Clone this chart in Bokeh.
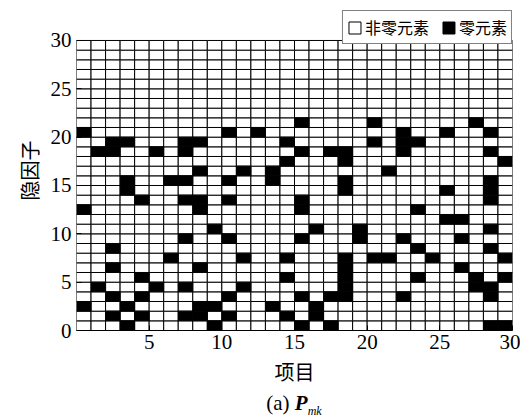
from bokeh.plotting import figure
from bokeh.models import ColumnDataSource, FixedTicker, Legend, LegendItem, Range1d, Div
from bokeh.layouts import column
from bokeh.embed import file_html
from bokeh.resources import INLINE

# ---- data ----
items = list(range(1, 31))      # 项目 (columns)
factors = list(range(1, 31))    # 隐因子 (rows)
x_ticks = [5, 10, 15, 20, 25, 30]
y_ticks = [0, 5, 10, 15, 20, 25, 30]
legend_labels = ["非零元素", "零元素"]

# zero-element cells: for each item 1..30, the latent-factor indices (1..30) that are zero
zero_factors = [
    [21, 13, 3],                          # 1
    [19, 5],                              # 2
    [20, 19, 9, 7, 4, 2],                 # 3
    [20, 16, 15, 3, 1],                   # 4
    [14, 6, 4, 2],                        # 5
    [19, 5],                              # 6
    [16, 8],                              # 7
    [20, 19, 16, 14, 10, 5, 2],           # 8
    [20, 17, 14, 13, 7, 3, 2],            # 9
    [11, 3, 1],                           # 10
    [21, 16, 14, 10, 4, 2],               # 11
    [17, 8, 5],                           # 12
    [21],                                 # 13
    [17, 16, 3],                          # 14
    [20, 18, 8, 6, 2],                    # 15
    [22, 19, 14, 13, 10, 4, 1],           # 16
    [11, 3, 2],                           # 17
    [19, 4, 1],                           # 18
    [19, 18, 16, 15, 8, 7, 6, 5, 4],      # 19
    [11, 10],                             # 20
    [22, 20, 8],                          # 21
    [17, 8],                              # 22
    [21, 20, 19, 10, 4],                  # 23
    [20, 13, 9, 6],                       # 24
    [8],                                  # 25
    [21, 15, 12],                         # 26
    [12, 10, 7],                          # 27
    [22, 6, 5],                           # 28
    [21, 19, 16, 15, 14, 11, 9, 5, 4, 1], # 29
    [18, 8, 6, 1],                        # 30
]

# ---- build cell tables ----
nz = dict(left=[], right=[], bottom=[], top=[])
zz = dict(left=[], right=[], bottom=[], top=[])
for c, zeros in zip(items, zero_factors):
    for k in factors:
        d = zz if k in zeros else nz
        d["left"].append(c - 1)
        d["right"].append(c)
        d["bottom"].append(k - 1)
        d["top"].append(k)

W, H = 520, 392
# frame reaches up to hold the legend; grid occupies 0..30 of the y range
p = figure(width=W, height=H, output_backend="svg", toolbar_location=None,
           x_range=Range1d(0, 30), y_range=Range1d(0, 33.1),
           min_border_left=76, min_border_right=8, min_border_top=10, min_border_bottom=62)
p.background_fill_color = "white"
p.border_fill_color = "white"
p.outline_line_color = None
p.xgrid.visible = False
p.ygrid.visible = False

r_nz = p.quad(source=ColumnDataSource(nz), left="left", right="right", bottom="bottom", top="top",
              fill_color="white", line_color="black", line_width=1)
r_z = p.quad(source=ColumnDataSource(zz), left="left", right="right", bottom="bottom", top="top",
             fill_color="black", line_color="black", line_width=1)

serif = "'Liberation Serif', 'DejaVu Serif', serif"
cjk = "Noto Sans CJK SC"
for ax in (p.xaxis[0], p.yaxis[0]):
    ax.major_tick_line_color = "black"
    ax.major_tick_in = 5
    ax.major_tick_out = 0
    ax.minor_tick_line_color = None
    ax.major_label_text_font = serif
    ax.major_label_text_font_size = "21px"
    ax.major_label_text_color = "black"
    ax.axis_label_text_font = cjk
    ax.axis_label_text_font_size = "20px"
    ax.axis_label_text_font_style = "normal"
    ax.axis_label_text_color = "black"
p.xaxis.axis_line_color = "black"
p.yaxis.axis_line_color = None

p.xaxis.ticker = FixedTicker(ticks=x_ticks)
p.yaxis.ticker = FixedTicker(ticks=y_ticks)
p.xaxis.major_label_standoff = 4
p.yaxis.major_label_standoff = 5
p.xaxis.axis_label = "项目"
p.yaxis.axis_label = "隐因子"
p.xaxis.axis_label_standoff = 5
p.yaxis.axis_label_standoff = 4

legend = Legend(items=[LegendItem(label=legend_labels[0], renderers=[r_nz]),
                       LegendItem(label=legend_labels[1], renderers=[r_z])],
                orientation="horizontal", location="top_right")
legend.border_line_color = "black"
legend.border_line_width = 1
legend.background_fill_color = "white"
legend.background_fill_alpha = 1
legend.label_text_font = cjk
legend.label_text_font_size = "16px"
legend.label_text_color = "black"
legend.label_standoff = 3
legend.glyph_width = 15
legend.glyph_height = 15
legend.label_height = 15
legend.padding = 4
legend.spacing = 12
legend.margin = 0
p.add_layout(legend)

caption = Div(text="(a) <b><i>P</i></b><sub style='font-size:12px'><i>mk</i></sub>",
              width=436, height=26, margin=(0, 0, 0, 76),
              styles={"text-align": "center", "font-family": "'Liberation Serif', serif",
                      "font-size": "21px", "color": "black", "line-height": "22px"})

layout = column(p, caption, spacing=0)
open("out.html", "w").write(file_html(layout, INLINE))
